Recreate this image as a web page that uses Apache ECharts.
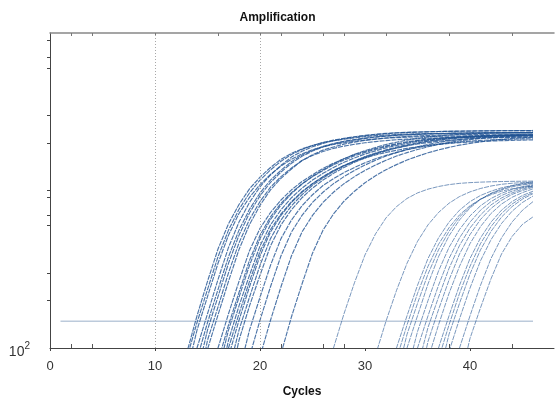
<!DOCTYPE html>
<html><head><meta charset="utf-8">
<script src="https://cdn.jsdelivr.net/npm/echarts@6/dist/echarts.min.js"></script>
<style>html,body{margin:0;padding:0;background:#fff}#c{width:555px;height:398px}</style>
</head><body><div id="c"></div>
<script>
const xLabelValues = [0, 10, 20, 30, 40];
const xMinorTicksBottom = [2, 4, 22, 26, 28, 38, 44];
const xTicksTop = [2, 4, 10, 16, 20, 22, 26, 28, 32, 38, 44];
const yTickValues = [200, 300, 600, 700, 900, 1000, 2000, 3000, 6000, 7000, 9000];
const thresholdValue = 148;
const thresholdCycles = [1, 46];
const guideCycles = [10, 20];
const lastCycle = 46;

// early curves (high plateau): first cycle of each curve, then fluorescence per cycle
const highStarts = [12, 13, 13, 14, 14, 13, 14, 14, 15, 16, 16, 17, 15, 16, 17, 17, 18, 19, 20, 22];
const highCurves = [
  [50,92,160,265,425,615,815,1025,1215,1400,1580,1720,1840,1930,2010,2070,2120,2160,2200,2230,2250,2265,2280,2290,2300,2305,2310,2315,2320,2322,2325,2328,2330,2332,2334],
  [68,130,212,345,520,715,905,1090,1265,1430,1580,1710,1815,1895,1960,2010,2055,2090,2125,2150,2168,2180,2192,2200,2208,2213,2217,2222,2225,2228,2230,2232,2234,2236],
  [50,100,165,272,435,630,840,1055,1255,1445,1630,1775,1895,1990,2070,2130,2185,2225,2265,2295,2318,2333,2348,2358,2368,2373,2378,2384,2389,2391,2394,2397,2399,2401],
  [68,130,212,345,520,720,925,1125,1310,1490,1650,1780,1890,1975,2045,2095,2140,2180,2215,2240,2258,2272,2285,2295,2302,2308,2312,2318,2321,2324,2327,2329,2331,2333],
  [50,98,162,265,422,608,805,1010,1195,1370,1550,1685,1805,1890,1970,2030,2078,2117,2156,2185,2205,2220,2235,2245,2255,2260,2265,2270,2275,2278,2281,2284,2286],
  [85,145,235,380,560,760,965,1165,1350,1535,1695,1820,1930,2020,2090,2145,2195,2240,2275,2305,2325,2340,2352,2362,2370,2377,2383,2388,2392,2396,2399,2402,2404,2406],
  [85,145,235,380,560,760,965,1165,1345,1525,1680,1800,1905,1990,2055,2105,2150,2190,2220,2245,2260,2275,2288,2296,2303,2309,2314,2319,2322,2325,2328,2330,2332],
  [52,112,182,300,465,655,850,1050,1225,1390,1550,1670,1770,1850,1915,1965,2010,2045,2075,2100,2118,2132,2145,2155,2163,2170,2175,2180,2184,2187,2190,2192,2194],
  [50,100,165,265,415,575,725,870,1010,1140,1260,1380,1490,1590,1690,1770,1850,1920,1980,2040,2080,2120,2150,2175,2195,2210,2225,2235,2245,2250,2255,2260,2262],
  [70,130,210,335,495,655,810,955,1100,1230,1355,1475,1590,1695,1790,1875,1960,2025,2090,2145,2185,2220,2250,2272,2290,2305,2318,2328,2336,2342,2347],
  [50,100,165,265,410,565,710,850,985,1105,1220,1335,1440,1540,1635,1715,1795,1860,1920,1975,2015,2055,2085,2110,2130,2145,2158,2168,2176,2182,2186],
  [70,130,210,335,495,650,800,940,1080,1200,1320,1430,1540,1640,1730,1810,1890,1950,2010,2060,2100,2135,2163,2185,2203,2218,2230,2240,2248,2253],
  [40,82,140,225,360,520,680,830,970,1100,1225,1340,1455,1560,1660,1745,1825,1900,1960,2020,2065,2105,2140,2165,2188,2205,2220,2232,2242,2249,2254,2258],
  [55,112,185,290,445,605,755,900,1035,1165,1285,1400,1510,1610,1705,1785,1865,1930,1990,2050,2090,2125,2155,2180,2198,2213,2227,2237,2246,2251],
  [88,150,245,385,545,695,840,975,1105,1225,1340,1440,1530,1610,1680,1745,1800,1850,1893,1930,1962,1990,2013,2032,2048,2061,2072,2081,2088,2094],
  [55,112,185,290,445,605,755,900,1035,1165,1285,1400,1510,1610,1705,1785,1865,1930,1990,2050,2090,2125,2155,2180,2198,2213,2227,2237,2246],
  [70,130,210,335,495,650,800,940,1075,1190,1300,1400,1500,1590,1670,1745,1815,1870,1925,1970,2005,2035,2060,2080,2095,2108,2118,2126,2132],
  [88,150,245,385,545,695,840,975,1105,1225,1340,1450,1555,1655,1740,1820,1895,1960,2020,2065,2105,2140,2165,2188,2205,2220,2232,2240],
  [88,150,245,385,545,695,840,975,1105,1225,1340,1450,1555,1655,1740,1820,1895,1960,2020,2065,2105,2140,2165,2188,2205,2220,2232],
  [92,158,255,400,560,710,855,990,1120,1240,1355,1460,1560,1650,1735,1810,1880,1940,1990,2035,2075,2110,2140,2160,2180]
];

// late curves (low plateau)
const lowStarts = [26, 31, 32, 33, 33, 33, 34, 34, 35, 35, 36, 36, 37, 37, 38, 38, 39];
const lowCurves = [
  [50,100,165,260,390,530,670,790,890,965,1020,1060,1090,1110,1122,1130,1136,1140,1143,1145,1147],
  [90,148,232,345,475,605,725,830,915,980,1030,1068,1095,1112,1122,1130],
  [50,100,160,250,370,500,630,750,850,930,990,1040,1075,1100,1115],
  [85,140,222,330,455,580,700,800,880,940,990,1025,1050,1065],
  [65,122,192,295,420,550,678,790,882,955,1010,1055,1085,1105],
  [50,100,160,255,380,515,650,775,878,960,1022,1072,1108,1132],
  [70,127,200,308,435,565,690,800,890,960,1015,1058,1088],
  [50,100,160,250,370,500,630,750,850,930,990,1040,1075],
  [75,135,210,320,448,578,700,810,897,965,1020,1062],
  [55,110,175,270,395,525,655,770,866,944,1000,1048],
  [85,140,222,330,460,590,715,820,905,970,1025],
  [50,100,160,250,370,500,630,750,850,930,990],
  [85,140,222,330,460,590,715,820,905,970],
  [65,122,192,295,420,550,678,790,882,955],
  [95,153,240,358,487,617,738,840,922],
  [50,100,160,250,370,500,630,750,850],
  [60,115,180,275,395,510,610,680]
];

const curveColor = '#225493';
function curveSeries(start, values, opacity, width) {
  return {
    type: 'line',
    data: values.map((v, i) => [start + i, v]).filter(p => p[0] <= lastCycle),
    showSymbol: false, symbol: 'none', smooth: false,
    lineStyle: { color: curveColor, width: width, opacity: opacity, type: [5, 1] },
    silent: true, z: 3
  };
}
const series = [];
highCurves.forEach((c, i) => series.push(curveSeries(highStarts[i], c, 0.8, 1.15)));
lowCurves.forEach((c, i) => series.push(curveSeries(lowStarts[i], c, 0.6, 1)));
series.push({
  type: 'line', symbol: 'none', silent: true, z: 2,
  data: thresholdCycles.map(c => [c, thresholdValue]),
  lineStyle: { color: '#bccadb', width: 1.6 },
  markLine: {
    silent: true, symbol: 'none', label: { show: false },
    lineStyle: { type: [1, 2], color: '#a8a8a8', width: 1 },
    data: guideCycles.map(c => ({ xAxis: c }))
  }
});

const fam = 'Liberation Sans, Arial, sans-serif';
const chart = echarts.init(document.getElementById('c'), null, { renderer: 'canvas' });
chart.setOption({
  animation: false,
  backgroundColor: '#fff',
  textStyle: { fontFamily: fam },
  title: {
    text: 'Amplification', left: 'center', top: 7,
    textStyle: { fontSize: 12, fontWeight: 'bold', color: '#111', fontFamily: fam }
  },
  grid: { left: 50, right: 1, top: 33, bottom: 50, containLabel: false, outerBoundsMode: 'none' },
  xAxis: [
    {
      type: 'value', min: 0, max: 48, position: 'bottom',
      name: 'Cycles', nameLocation: 'middle', nameGap: 38,
      nameTextStyle: { fontSize: 12, fontWeight: 'bold', color: '#111' },
      axisLine: { lineStyle: { color: '#444', width: 1 } },
      axisTick: { show: true, customValues: xLabelValues, length: 3, lineStyle: { color: '#444' } },
      axisLabel: { customValues: xLabelValues, fontSize: 13, color: '#333', margin: 12 },
      splitLine: { show: false }
    },
    {
      type: 'value', min: 0, max: 48, position: 'bottom', gridIndex: 0,
      axisLine: { show: false },
      axisTick: { show: true, inside: true, customValues: xMinorTicksBottom, length: 4, lineStyle: { color: '#555' } },
      axisLabel: { show: false }, splitLine: { show: false }
    },
    {
      type: 'value', min: 0, max: 48, position: 'top',
      axisLine: { lineStyle: { color: '#888', width: 1.5 } },
      axisTick: { show: true, inside: true, customValues: xTicksTop, length: 3, lineStyle: { color: '#777' } },
      axisLabel: { show: false }, splitLine: { show: false }
    }
  ],
  yAxis: {
    type: 'log', logBase: 10, min: 100, max: 10000,
    axisLine: { show: true, lineStyle: { color: '#444', width: 1 } },
    axisTick: { show: true, customValues: yTickValues, length: 3, lineStyle: { color: '#444' } },
    axisLabel: {
      customValues: [100], margin: 20, color: '#333', padding: [5, 0, 0, 0],
      formatter: v => (Math.round(v) === 100 ? '{a|10}{b|2}' : ''),
      rich: {
        a: { fontSize: 14, lineHeight: 18, color: '#333', verticalAlign: 'bottom', fontFamily: fam },
        b: { fontSize: 10, lineHeight: 18, color: '#333', verticalAlign: 'top', fontFamily: fam }
      }
    },
    splitLine: { show: false }
  },
  series: series
});
</script></body></html>
